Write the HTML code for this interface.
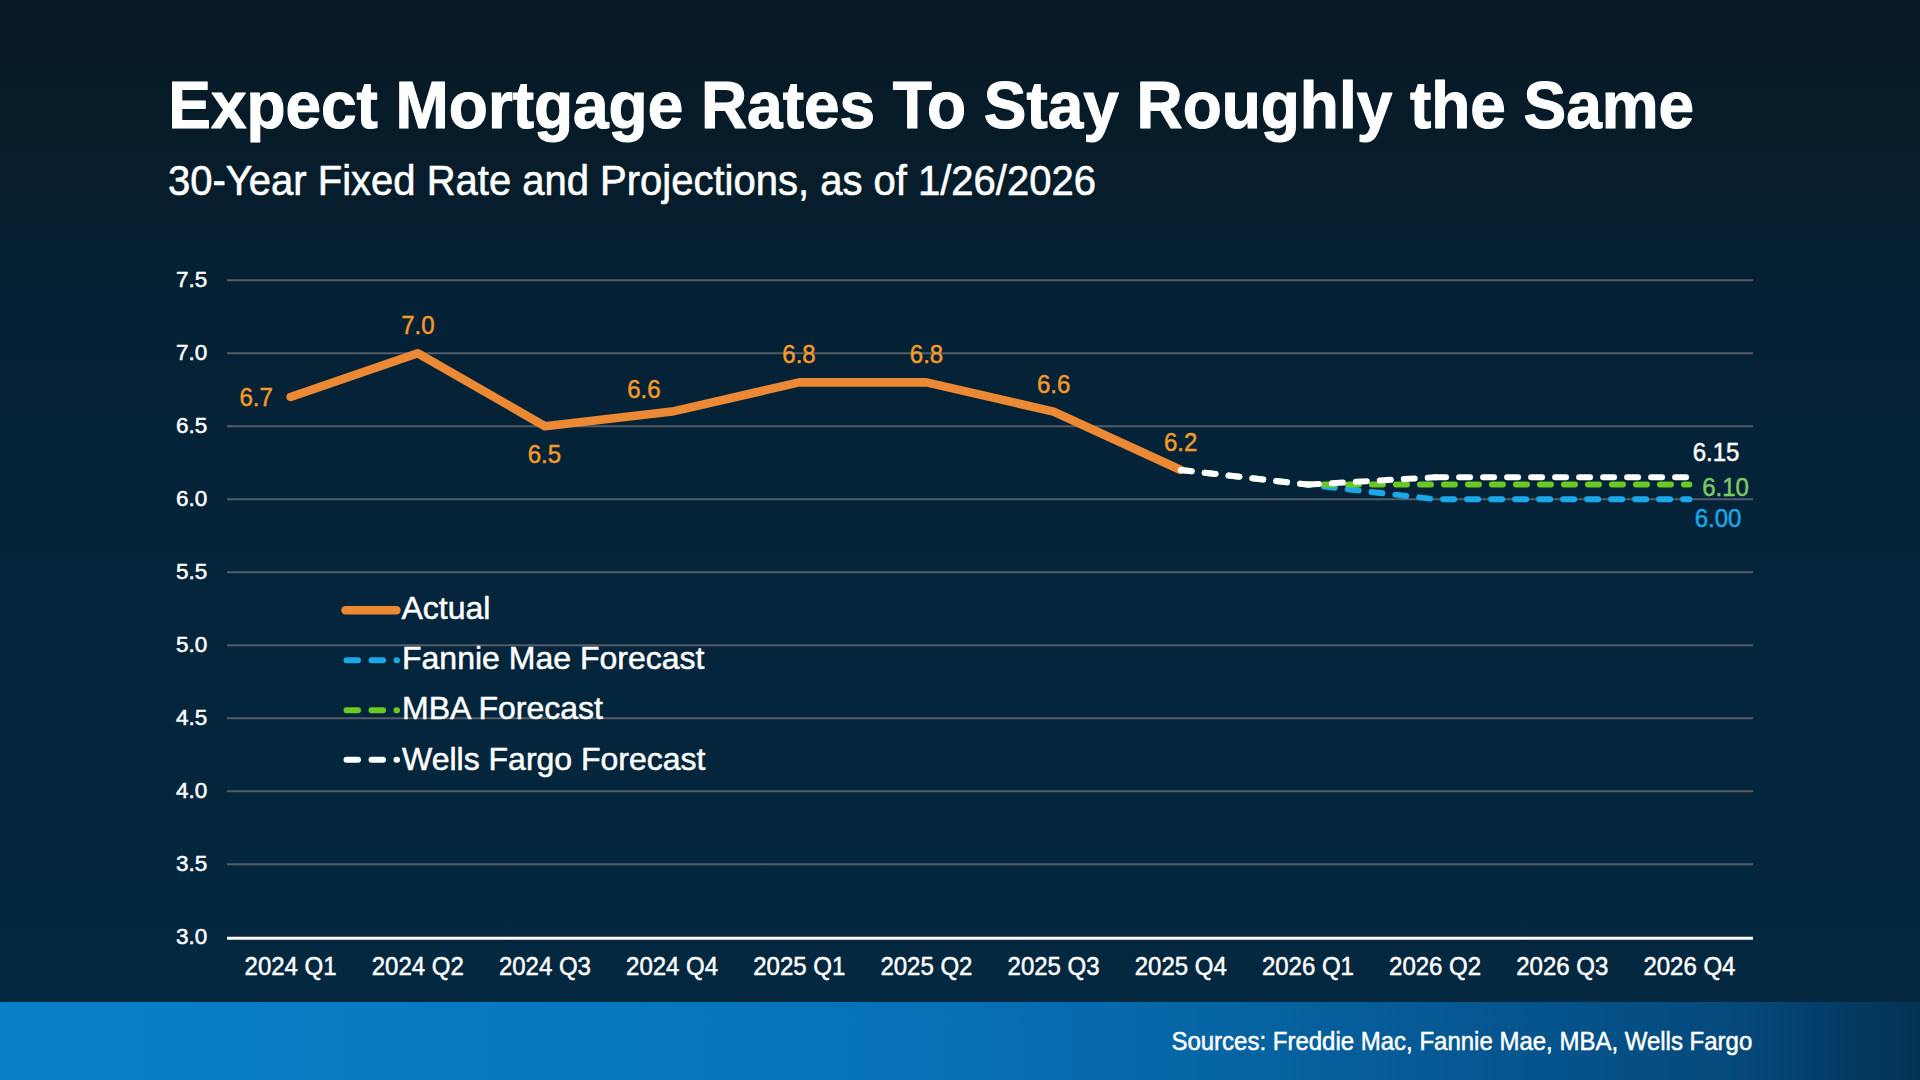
<!DOCTYPE html>
<html><head><meta charset="utf-8">
<style>
html,body{margin:0;padding:0;}
body{width:1920px;height:1080px;overflow:hidden;position:relative;
 background:linear-gradient(180deg,#071924 0px,#061d2b 190px,#052033 260px,#04253b 600px,#03283f 1000px);
 font-family:"Liberation Sans",sans-serif;}
svg{position:absolute;left:0;top:0;font-family:"Liberation Sans",sans-serif;}
.bar{position:absolute;left:0;top:1002px;width:1920px;height:78px;
 background:linear-gradient(90deg,#0a80c8 0%,#0778c0 30%,#0670b4 50%,#0666a6 62%,#055c98 72%,#05528a 82%,#054a7c 90%,#043e6a 95%,#043352 100%);}
</style></head><body>
<div class="bar"></div>
<svg width="1920" height="1080" viewBox="0 0 1920 1080">
<line x1="227.0" y1="864.2" x2="1753.0" y2="864.2" stroke="#535c67" stroke-width="2"/>
<line x1="227.0" y1="791.2" x2="1753.0" y2="791.2" stroke="#535c67" stroke-width="2"/>
<line x1="227.0" y1="718.2" x2="1753.0" y2="718.2" stroke="#535c67" stroke-width="2"/>
<line x1="227.0" y1="645.2" x2="1753.0" y2="645.2" stroke="#535c67" stroke-width="2"/>
<line x1="227.0" y1="572.2" x2="1753.0" y2="572.2" stroke="#535c67" stroke-width="2"/>
<line x1="227.0" y1="499.2" x2="1753.0" y2="499.2" stroke="#535c67" stroke-width="2"/>
<line x1="227.0" y1="426.2" x2="1753.0" y2="426.2" stroke="#535c67" stroke-width="2"/>
<line x1="227.0" y1="353.2" x2="1753.0" y2="353.2" stroke="#535c67" stroke-width="2"/>
<line x1="227.0" y1="280.2" x2="1753.0" y2="280.2" stroke="#535c67" stroke-width="2"/>

<line x1="227.0" y1="938.3" x2="1753.0" y2="938.3" stroke="#ffffff" stroke-width="3"/>
<text transform="translate(207.30,943.60) scale(1.0000,1)" text-anchor="end" font-size="22.50" font-weight="normal" fill="#fff" stroke="#fff" stroke-width="0.5" stroke-linejoin="round" >3.0</text>
<text transform="translate(207.30,870.60) scale(1.0000,1)" text-anchor="end" font-size="22.50" font-weight="normal" fill="#fff" stroke="#fff" stroke-width="0.5" stroke-linejoin="round" >3.5</text>
<text transform="translate(207.30,797.60) scale(1.0000,1)" text-anchor="end" font-size="22.50" font-weight="normal" fill="#fff" stroke="#fff" stroke-width="0.5" stroke-linejoin="round" >4.0</text>
<text transform="translate(207.30,724.60) scale(1.0000,1)" text-anchor="end" font-size="22.50" font-weight="normal" fill="#fff" stroke="#fff" stroke-width="0.5" stroke-linejoin="round" >4.5</text>
<text transform="translate(207.30,651.60) scale(1.0000,1)" text-anchor="end" font-size="22.50" font-weight="normal" fill="#fff" stroke="#fff" stroke-width="0.5" stroke-linejoin="round" >5.0</text>
<text transform="translate(207.30,578.60) scale(1.0000,1)" text-anchor="end" font-size="22.50" font-weight="normal" fill="#fff" stroke="#fff" stroke-width="0.5" stroke-linejoin="round" >5.5</text>
<text transform="translate(207.30,505.60) scale(1.0000,1)" text-anchor="end" font-size="22.50" font-weight="normal" fill="#fff" stroke="#fff" stroke-width="0.5" stroke-linejoin="round" >6.0</text>
<text transform="translate(207.30,432.60) scale(1.0000,1)" text-anchor="end" font-size="22.50" font-weight="normal" fill="#fff" stroke="#fff" stroke-width="0.5" stroke-linejoin="round" >6.5</text>
<text transform="translate(207.30,359.60) scale(1.0000,1)" text-anchor="end" font-size="22.50" font-weight="normal" fill="#fff" stroke="#fff" stroke-width="0.5" stroke-linejoin="round" >7.0</text>
<text transform="translate(207.30,286.60) scale(1.0000,1)" text-anchor="end" font-size="22.50" font-weight="normal" fill="#fff" stroke="#fff" stroke-width="0.5" stroke-linejoin="round" >7.5</text>
<text transform="translate(290.58,974.50) scale(0.9346,1)" text-anchor="middle" font-size="25.68" font-weight="normal" fill="#fff" stroke="#fff" stroke-width="0.5" stroke-linejoin="round" >2024 Q1</text>
<text transform="translate(417.75,974.50) scale(0.9346,1)" text-anchor="middle" font-size="25.68" font-weight="normal" fill="#fff" stroke="#fff" stroke-width="0.5" stroke-linejoin="round" >2024 Q2</text>
<text transform="translate(544.92,974.50) scale(0.9346,1)" text-anchor="middle" font-size="25.68" font-weight="normal" fill="#fff" stroke="#fff" stroke-width="0.5" stroke-linejoin="round" >2024 Q3</text>
<text transform="translate(672.08,974.50) scale(0.9346,1)" text-anchor="middle" font-size="25.68" font-weight="normal" fill="#fff" stroke="#fff" stroke-width="0.5" stroke-linejoin="round" >2024 Q4</text>
<text transform="translate(799.25,974.50) scale(0.9346,1)" text-anchor="middle" font-size="25.68" font-weight="normal" fill="#fff" stroke="#fff" stroke-width="0.5" stroke-linejoin="round" >2025 Q1</text>
<text transform="translate(926.42,974.50) scale(0.9346,1)" text-anchor="middle" font-size="25.68" font-weight="normal" fill="#fff" stroke="#fff" stroke-width="0.5" stroke-linejoin="round" >2025 Q2</text>
<text transform="translate(1053.58,974.50) scale(0.9346,1)" text-anchor="middle" font-size="25.68" font-weight="normal" fill="#fff" stroke="#fff" stroke-width="0.5" stroke-linejoin="round" >2025 Q3</text>
<text transform="translate(1180.75,974.50) scale(0.9346,1)" text-anchor="middle" font-size="25.68" font-weight="normal" fill="#fff" stroke="#fff" stroke-width="0.5" stroke-linejoin="round" >2025 Q4</text>
<text transform="translate(1307.92,974.50) scale(0.9346,1)" text-anchor="middle" font-size="25.68" font-weight="normal" fill="#fff" stroke="#fff" stroke-width="0.5" stroke-linejoin="round" >2026 Q1</text>
<text transform="translate(1435.08,974.50) scale(0.9346,1)" text-anchor="middle" font-size="25.68" font-weight="normal" fill="#fff" stroke="#fff" stroke-width="0.5" stroke-linejoin="round" >2026 Q2</text>
<text transform="translate(1562.25,974.50) scale(0.9346,1)" text-anchor="middle" font-size="25.68" font-weight="normal" fill="#fff" stroke="#fff" stroke-width="0.5" stroke-linejoin="round" >2026 Q3</text>
<text transform="translate(1689.42,974.50) scale(0.9346,1)" text-anchor="middle" font-size="25.68" font-weight="normal" fill="#fff" stroke="#fff" stroke-width="0.5" stroke-linejoin="round" >2026 Q4</text>

<polyline points="290.6,397.0 417.8,353.2 544.9,426.2 672.1,411.6 799.2,382.4 926.4,382.4 1053.6,411.6 1180.8,470.0" fill="none" stroke="#ec8935" stroke-width="8.6" stroke-linejoin="round" stroke-linecap="round"/>
<polyline points="1180.8,470.0 1307.9,484.6 1435.1,499.2 1562.2,499.2 1689.4,499.2" fill="none" stroke="#1aa8e8" stroke-width="6" stroke-dasharray="11 13" stroke-linecap="round" stroke-linejoin="round"/>
<polyline points="1180.8,470.0 1307.9,484.6 1435.1,484.6 1562.2,484.6 1689.4,484.6" fill="none" stroke="#6cc924" stroke-width="6" stroke-dasharray="11 13" stroke-linecap="round" stroke-linejoin="round"/>
<polyline points="1180.8,470.0 1307.9,484.6" fill="none" stroke="#ffffff" stroke-width="6" stroke-dasharray="11 13" stroke-linecap="round" stroke-linejoin="round"/>
<polyline points="1307.9,484.6 1435.1,477.3" fill="none" stroke="#ffffff" stroke-width="6" stroke-dasharray="11 13" stroke-linecap="round" stroke-linejoin="round"/>
<polyline points="1435.1,477.3 1562.2,477.3 1689.4,477.3" fill="none" stroke="#ffffff" stroke-width="6" stroke-dasharray="11 13" stroke-linecap="round" stroke-linejoin="round"/>
<text transform="translate(256.20,406.30) scale(0.9346,1)" text-anchor="middle" font-size="25.68" font-weight="normal" fill="#f29a2a" stroke="#f29a2a" stroke-width="0.5" stroke-linejoin="round" >6.7</text>
<text transform="translate(417.90,334.40) scale(0.9346,1)" text-anchor="middle" font-size="25.68" font-weight="normal" fill="#f29a2a" stroke="#f29a2a" stroke-width="0.5" stroke-linejoin="round" >7.0</text>
<text transform="translate(544.40,462.90) scale(0.9346,1)" text-anchor="middle" font-size="25.68" font-weight="normal" fill="#f29a2a" stroke="#f29a2a" stroke-width="0.5" stroke-linejoin="round" >6.5</text>
<text transform="translate(643.90,398.00) scale(0.9346,1)" text-anchor="middle" font-size="25.68" font-weight="normal" fill="#f29a2a" stroke="#f29a2a" stroke-width="0.5" stroke-linejoin="round" >6.6</text>
<text transform="translate(799.00,362.80) scale(0.9346,1)" text-anchor="middle" font-size="25.68" font-weight="normal" fill="#f29a2a" stroke="#f29a2a" stroke-width="0.5" stroke-linejoin="round" >6.8</text>
<text transform="translate(926.50,362.80) scale(0.9346,1)" text-anchor="middle" font-size="25.68" font-weight="normal" fill="#f29a2a" stroke="#f29a2a" stroke-width="0.5" stroke-linejoin="round" >6.8</text>
<text transform="translate(1053.60,392.80) scale(0.9346,1)" text-anchor="middle" font-size="25.68" font-weight="normal" fill="#f29a2a" stroke="#f29a2a" stroke-width="0.5" stroke-linejoin="round" >6.6</text>
<text transform="translate(1180.70,451.00) scale(0.9346,1)" text-anchor="middle" font-size="25.68" font-weight="normal" fill="#f29a2a" stroke="#f29a2a" stroke-width="0.5" stroke-linejoin="round" >6.2</text>

<line x1="345.5" y1="610.2" x2="396.5" y2="610.2" stroke="#ec8935" stroke-width="8.4" stroke-linecap="round"/>
<line x1="346.5" y1="660.2" x2="397" y2="660.2" stroke="#1aa8e8" stroke-width="6" stroke-dasharray="11.5 13.5" stroke-linecap="round"/>
<line x1="346.5" y1="710.2" x2="397" y2="710.2" stroke="#6cc924" stroke-width="6" stroke-dasharray="11.5 13.5" stroke-linecap="round"/>
<line x1="346.5" y1="759.8" x2="397" y2="759.8" stroke="#ffffff" stroke-width="6" stroke-dasharray="11.5 13.5" stroke-linecap="round"/>
<text transform="translate(168.30,127.60) scale(0.9470,1)" text-anchor="start" font-size="67.50" font-weight="bold" fill="#fff" stroke="#fff" stroke-width="1.1" stroke-linejoin="round" >Expect Mortgage Rates To Stay Roughly the Same</text>
<text transform="translate(168.00,194.80) scale(0.9570,1)" text-anchor="start" font-size="41.80" font-weight="normal" fill="#fff" stroke="#fff" stroke-width="0.6" stroke-linejoin="round" >30-Year Fixed Rate and Projections, as of 1/26/2026</text>
<text transform="translate(1716.00,460.90) scale(0.9346,1)" text-anchor="middle" font-size="25.68" font-weight="normal" fill="#fff" stroke="#fff" stroke-width="0.5" stroke-linejoin="round" >6.15</text>
<text transform="translate(1725.60,496.20) scale(0.9346,1)" text-anchor="middle" font-size="25.68" font-weight="normal" fill="#7dc963" stroke="#7dc963" stroke-width="0.5" stroke-linejoin="round" >6.10</text>
<text transform="translate(1718.00,527.20) scale(0.9346,1)" text-anchor="middle" font-size="25.68" font-weight="normal" fill="#1ca6e6" stroke="#1ca6e6" stroke-width="0.5" stroke-linejoin="round" >6.00</text>
<text transform="translate(401.50,619.00) scale(1.0000,1)" text-anchor="start" font-size="32.00" font-weight="normal" fill="#fff" stroke="#fff" stroke-width="0.5" stroke-linejoin="round" >Actual</text>
<text transform="translate(402.00,668.50) scale(1.0000,1)" text-anchor="start" font-size="32.00" font-weight="normal" fill="#fff" stroke="#fff" stroke-width="0.5" stroke-linejoin="round" >Fannie Mae Forecast</text>
<text transform="translate(402.00,719.20) scale(1.0000,1)" text-anchor="start" font-size="32.00" font-weight="normal" fill="#fff" stroke="#fff" stroke-width="0.5" stroke-linejoin="round" >MBA Forecast</text>
<text transform="translate(402.00,769.60) scale(1.0000,1)" text-anchor="start" font-size="32.00" font-weight="normal" fill="#fff" stroke="#fff" stroke-width="0.5" stroke-linejoin="round" >Wells Fargo Forecast</text>
<text transform="translate(1171.40,1049.60) scale(0.9346,1)" text-anchor="start" font-size="25.68" font-weight="normal" fill="#fff" stroke="#fff" stroke-width="0.5" stroke-linejoin="round" >Sources: Freddie Mac, Fannie Mae, MBA, Wells Fargo</text>

</svg>
</body></html>
